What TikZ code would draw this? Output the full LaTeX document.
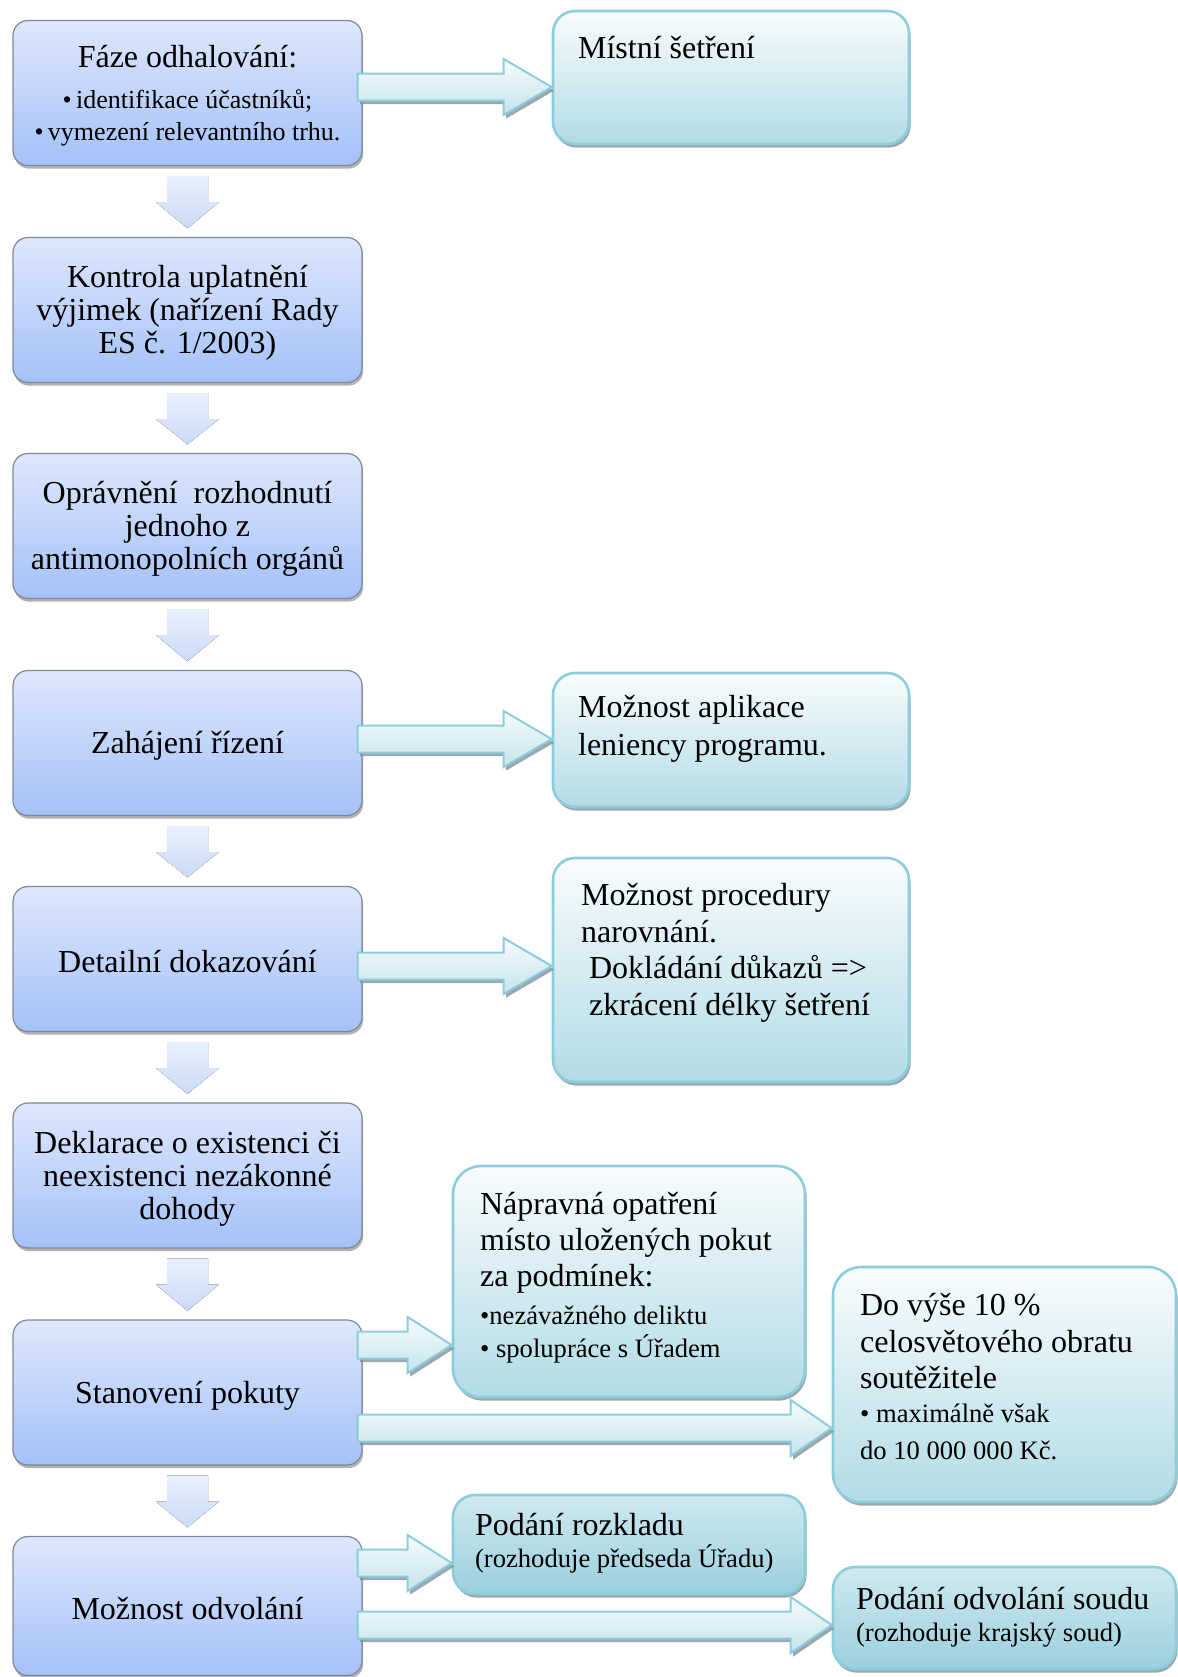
\documentclass[tikz,border=0pt]{standalone}
\usepackage{fontspec}
\setmainfont{Liberation Serif}
\usetikzlibrary{calc,shadows}

\definecolor{lboxtop}{RGB}{222,231,252}
\definecolor{lboxbot}{RGB}{164,193,248}
\definecolor{lboxline}{RGB}{128,136,150}
\definecolor{rboxtop}{RGB}{249,252,253}
\definecolor{rboxbot}{RGB}{178,219,230}
\definecolor{rboxline}{RGB}{140,205,219}
\definecolor{rboxdark}{RGB}{155,208,222}
\definecolor{darrtop}{RGB}{233,240,253}
\definecolor{darrbot}{RGB}{203,218,247}
\definecolor{rarrtop}{RGB}{246,251,252}
\definecolor{rarrbot}{RGB}{196,228,236}
\definecolor{shadowcol}{RGB}{130,146,156}

\begin{document}
\begin{tikzpicture}[x=0.5pt,y=0.5pt,yscale=-1,
  lbox/.style={draw=lboxline, line width=0.6pt, rounded corners=7.5pt,
    top color=lboxtop, bottom color=lboxbot,
    minimum width=174.5pt, minimum height=72.5pt, align=center, inner sep=2pt,
    font=\fontsize{16}{16.5}\selectfont,
    drop shadow={shadow xshift=0.6pt, shadow yshift=-1.6pt, fill=black, opacity=0.3}},
  rbox/.style={draw=rboxline, line width=1.3pt, rounded corners=11pt,
    top color=rboxtop, bottom color=rboxbot, minimum width=178pt, inner sep=0pt,
    drop shadow={shadow xshift=0.8pt, shadow yshift=-1.8pt, fill=shadowcol, opacity=0.8}},
  rtext/.style={anchor=west, align=left, inner sep=0pt, font=\fontsize{16}{18.25}\selectfont},
  darr/.style={top color=darrtop, bottom color=darrbot},
  rarr/.style={draw=rboxline, line width=1pt, top color=rarrtop, bottom color=rarrbot,
    drop shadow={shadow xshift=1.2pt, shadow yshift=-1.8pt, fill=shadowcol, opacity=0.8}}
]
\useasboundingbox (0,0) rectangle (1178,1677);

%Left column: steps of the proceeding
\node (f1) [lbox] at (187.5,93) {\rule{0pt}{14pt}Fáze odhalování:\\[3.75pt]
  {\fontsize{13}{16}\selectfont •\,identifikace účastníků;}\\[-0.5pt]
  {\fontsize{13}{16}\selectfont •\,vymezení relevantního trhu.}};
\node (f2) [lbox] at (187.5,310) {\rule{0pt}{14pt}Kontrola uplatnění\\ výjimek (nařízení Rady\\ ES č. 1/2003)};
\node (f3) [lbox] at (187.5,526) {\rule{0pt}{14pt}Oprávnění~ rozhodnutí\\ jednoho z\\ antimonopolních orgánů};
\node (f4) [lbox] at (187.5,743) {\rule{0pt}{14pt}Zahájení řízení};
\node (f5) [lbox] at (187.5,959) {\rule{0pt}{14pt}Detailní dokazování};
\node (f6) [lbox] at (187.5,1175.5) {\rule{0pt}{14pt}Deklarace o existenci či\\ neexistenci nezákonné\\ dohody};
\node (f7) [lbox] at (187.5,1392.5) {\rule{0pt}{14pt}Stanovení pokuty};
\node (f8) [lbox, minimum height=69.5pt] at (187.5,1606) {\rule{0pt}{14pt}Možnost odvolání};

%Down arrows
\foreach \a/\b in {f1/f2,f2/f3,f3/f4,f4/f5,f5/f6,f6/f7,f7/f8}
  \fill[darr] ($(\a.south)+(-20.5,10)$) -- ($(\a.south)+(20.5,10)$) -- ($(\a.south)+(20.5,36)$)
    -- ($(\a.south)+(31.5,36)$) -- ($(\b.north)+(0,-8.5)$) -- ($(\a.south)+(-31.5,36)$)
    -- ($(\a.south)+(-20.5,36)$) -- cycle;

%Right column: notes
\node (r1) [rbox, minimum height=66.5pt] at (731,77.5) {};
\node (r2) [rbox, minimum height=67pt] at (731,740) {};
\node (r3) [rbox, minimum height=112pt] at (731,970) {};
\node (r4) [rbox, rounded corners=14pt, minimum width=176pt, minimum height=115.5pt] at (629,1281.5) {};
\node (r5) [rbox, rounded corners=14pt, minimum width=171.5pt, minimum height=117.5pt] at (1004.5,1384.5) {};
\node (r6) [rbox, top color=rboxtop!55!rboxdark, bottom color=rboxdark, minimum width=176pt, minimum height=49.5pt] at (629,1544.5) {};
\node (r7) [rbox, top color=rboxtop!55!rboxdark, bottom color=rboxdark, minimum width=171.5pt, minimum height=51pt] at (1004.5,1618) {};

%Right arrows
\foreach \s/\t/\yc/\hl in {f1/r1/87/48, f4/r2/739/48, f5/r3/966/48, f7/r4/1345/44,
    f7/r5/1428/41, f8/r6/1563/44, f8/r7/1625/41}
  \filldraw[rarr] ($(\s.east|-0,\yc)+(-5,-13.5)$) -- ($(\t.west|-0,\yc)+(-\hl,-13.5)$)
    -- ($(\t.west|-0,\yc)+(-\hl,-28)$) -- (\t.west|-0,\yc) -- ($(\t.west|-0,\yc)+(-\hl,28)$)
    -- ($(\t.west|-0,\yc)+(-\hl,13.5)$) -- ($(\s.east|-0,\yc)+(-5,13.5)$) -- cycle;

% Text Node
\node (t1) [rtext] at ($(r1.west)+(26,-30)$) {Místní šetření};
% Text Node
\node (t2) [rtext] at ($(r2.west)+(26,-11)$) {Možnost aplikace\\[0.5pt] leniency programu.};
% Text Node
\node (t3) [rtext] at ($(r3.west)+(29,-17)$) {Možnost procedury\\ narovnání.\\ \ Dokládání důkazů =>\\ \ zkrácení délky šetření};
% Text Node
\node (t4) [rtext] at ($(r4.west)+(28,-4)$) {Nápravná opatření\\[-0.25pt] místo uložených pokut\\[-0.25pt] za podmínek:\\[1pt]
  {\fontsize{13.3}{16}\selectfont •nezávažného deliktu}\\[-2pt]
  {\fontsize{13.3}{16}\selectfont • spolupráce s Úřadem}};
% Text Node
\node (t5) [rtext] at ($(r5.west)+(28,-8)$) {Do výše 10 \%\\ celosvětového obratu\\ soutěžitele\\[-1.25pt]
  {\fontsize{13.3}{16}\selectfont • maximálně však}\\
  {\fontsize{13.3}{16}\selectfont do 10 000 000 Kč.}};
% Text Node
\node (t6) [rtext] at ($(r6.west)+(23,-1.5)$) {Podání rozkladu\\[-2pt]
  {\fontsize{13.3}{16}\selectfont (rozhoduje předseda Úřadu)}};
% Text Node
\node (t7) [rtext] at ($(r7.west)+(24,-1)$) {Podání odvolání soudu\\[-2pt]
  {\fontsize{13.3}{16}\selectfont (rozhoduje krajský soud)}};

\end{tikzpicture}
\end{document}
